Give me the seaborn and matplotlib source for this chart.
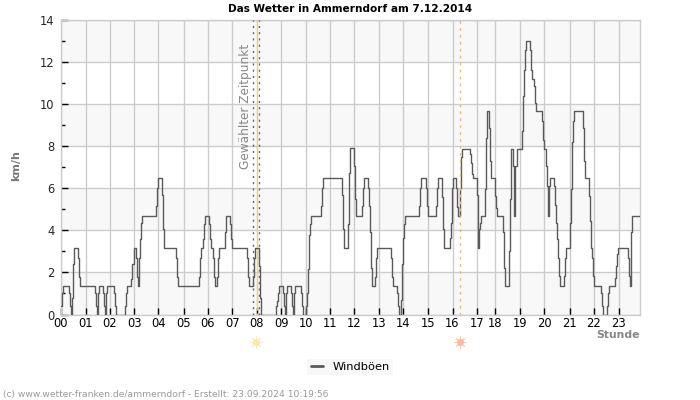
import matplotlib
matplotlib.use('Agg')
import matplotlib.pyplot as plt
import seaborn as sns
import numpy as np

# Messwerte: Position (Sample-Nr. auf der Achse) und Windböen in km/h, nur die Stufen
gust_x = [0, 1, 2, 8, 9, 10, 11, 12, 13, 17, 18, 19, 34, 35, 36, 37, 38, 42, 43, 44, 45, 46, 53, 54, 55,
          64, 65, 66, 70, 71, 73, 75, 76, 77, 78, 79, 80, 81, 95, 96, 97, 101, 102, 103, 115, 116, 117,
          138, 139, 140, 142, 143, 144, 148, 149, 150, 152, 153, 154, 156, 157, 158, 164, 165, 169, 170, 171,
          186, 187, 188, 192, 193, 194, 198, 199, 200,
          215, 216, 217, 218, 222, 223, 224, 225, 226, 230, 231, 232, 233, 234, 240, 241, 242,
          245, 246, 247, 248, 249, 250, 260, 261, 262, 281, 282, 283, 287, 288, 289, 293, 294, 295,
          301, 302, 303, 307, 308, 309, 310, 311, 314, 315, 316, 330, 331, 332, 336, 337, 338,
          340, 341, 342, 343, 344, 358, 359, 360, 365, 366, 367, 375, 376, 377, 381, 382, 383,
          389, 390, 391, 392, 395, 396, 397, 399, 400, 401, 409, 410, 411, 412, 416, 417, 418, 419, 420,
          424, 425, 426, 428, 429, 430, 434, 435, 436, 442, 443, 444, 448, 449, 450, 452, 453, 454, 456,
          461, 462, 463, 464, 465, 469, 470, 471, 473, 474, 475, 481, 482, 483, 485, 486, 487, 488, 489,
          493, 494, 495, 496, 497, 498, 499, 503, 504, 505, 509, 510, 511, 512, 513, 522, 523, 524,
          528, 529, 530, 531, 532, 533, 540, 541, 542, 546, 547, 548, 554, 555, 556, 557,
          567, 568, 569, 570, 571, 579]
gust_kmh = [0.4, 1.0, 1.36, 1.0, 0.4, 0, 0.8, 2.4, 3.17, 2.7, 1.8, 1.36, 1.0, 0.4, 0, 1.0, 1.36, 1.0, 0.4, 0, 1.0, 1.36, 1.0, 0.4, 0,
            0.4, 1.0, 1.36, 1.67, 2.4, 3.17, 2.7, 1.8, 1.36, 2.7, 3.57, 4.36, 4.7, 5.15, 6.03, 6.5, 5.7, 4.05, 3.17, 2.7, 1.8, 1.36,
            1.8, 2.7, 3.17, 3.57, 4.3, 4.7, 4.3, 3.57, 3.17, 2.7, 1.8, 1.36, 1.8, 2.7, 3.17, 3.9, 4.7, 4.3, 3.57, 3.17,
            2.7, 1.8, 1.36, 1.8, 2.7, 3.17, 2.3, 0.8, 0,
            0.4, 0.63, 1.0, 1.36, 1.0, 0.4, 0, 1.0, 1.36, 1.0, 0.4, 0, 1.0, 1.36, 1.0, 0.4, 0,
            0.4, 1.0, 2.14, 3.8, 4.3, 4.7, 5.15, 6.03, 6.5, 5.7, 4.05, 3.17, 4.3, 6.75, 7.9, 7.06, 5.5, 4.7,
            5.15, 6.03, 6.5, 6.03, 5.15, 3.9, 2.2, 1.36, 1.8, 2.7, 3.17, 2.7, 1.8, 1.36, 1.0, 0.4, 0,
            0.7, 2.4, 3.65, 4.3, 4.7, 5.15, 6.03, 6.5, 6.03, 5.15, 4.7, 5.15, 6.03, 6.5, 5.6, 4.05, 3.17,
            3.65, 4.36, 6.03, 6.5, 6.03, 5.1, 4.7, 6.0, 7.5, 7.86, 7.64, 7.2, 6.7, 6.5, 5.67, 3.17, 4.05, 4.37, 4.7,
            5.95, 8.4, 9.68, 8.87, 7.28, 6.5, 5.63, 5.08, 4.7, 3.9, 2.2, 1.36, 3.0, 5.5, 7.86, 7.07, 4.7, 7.07, 7.86,
            8.7, 10.37, 11.64, 12.56, 13, 12.56, 11.64, 11.2, 10.85, 10.05, 9.68, 9.2, 8.3, 7.86, 7.07, 6.1, 4.7, 6.1, 6.5,
            6.1, 5.2, 4.37, 3.57, 2.7, 1.83, 1.36, 1.83, 2.7, 3.17, 4.37, 5.95, 8.2, 9.18, 9.68, 8.87, 7.28, 6.5,
            5.63, 4.44, 3.17, 2.7, 1.83, 1.36, 1.0, 0.4, 0, 0.4, 1.0, 1.36, 1.75, 2.3, 2.86, 3.17,
            2.7, 1.83, 1.36, 3.9, 4.7, 4.7]

hour_ticks = [0, 24.7, 48.7, 73.3, 97.3, 122.7, 146.5, 171.3, 195.7, 220.3, 244.7, 269, 293, 318, 342, 367,
              391.5, 416.3, 434.3, 459.3, 483.3, 508.5, 532.5, 557.5]
hour_labels = [f"{h:02d}" for h in range(24)]
y_major = [0, 2, 4, 6, 8, 10, 12, 14]
y_minor = [1, 3, 5, 7, 9, 11, 13]
bands = [(0, 2), (4, 6), (8, 10), (12, 14)]

selected_x = [191.5, 197.5]
sunrise_x = 195.7
sunset_x = 399.3

sns.set_style("white")
plt.rcParams['font.family'] = ['DejaVu Sans']

fig = plt.figure(figsize=(7, 4), dpi=100)
ax = fig.add_axes([61/700, 1 - 314.5/400, 579/700, 294.5/400])

# Hintergrund
for lo, hi in bands:
    ax.axhspan(lo, hi, color="#f8f8f8", lw=0, zorder=0)
ax.set_axisbelow(True)
ax.grid(True, which='major', color="#cccccc", lw=1)

sns.lineplot(x=gust_x, y=gust_kmh, drawstyle='steps-post', estimator=None, errorbar=None,
             color="#5a5a5a", lw=1, label="Windböen", ax=ax, legend=False, zorder=3)

# Markierungen
for xs in selected_x:
    ax.axvline(xs, color="#666666", lw=1, ls=(0, (1.5, 3)), zorder=4)
ax.axvline(sunrise_x, color="#f5e04a", lw=1, ls=(0, (1.5, 2)), zorder=4)
ax.axvline(sunset_x, color="#ffb84d", lw=1, ls=(0, (2, 3)), zorder=4)
ax.text(184, 9.9, "Gewählter Zeitpunkt", rotation=90, color="#888888", fontsize=8.75,
        ha='center', va='center', zorder=5)

ax.set_xlim(0, 579)
ax.set_ylim(0, 14)
ax.set_xticks(hour_ticks)
ax.set_xticklabels(hour_labels)
ax.set_yticks(y_major)
ax.set_yticks(y_minor, minor=True)
ax.tick_params(axis='x', direction='in', length=5, width=1, color='black', labelsize=8.3, pad=2,
               bottom=True, labelcolor='black')
ax.tick_params(axis='y', which='major', direction='in', length=5, width=1, color='black', labelsize=8.3,
               pad=4.5, left=True)
ax.tick_params(axis='y', which='minor', direction='in', length=3, width=1, color='black', left=True)
for s in ax.spines.values():
    s.set_color("#cccccc")
    s.set_linewidth(1)

# Sonnenauf- und -untergang
trans = ax.get_xaxis_transform()
for xs, col in [(sunrise_x, "#fbe9a6"), (sunset_x, "#ffb9a0")]:
    ax.plot([xs - 0.5], [-0.0925], marker=(8, 2, 0), ms=8.5, mew=0.7, color=col, transform=trans,
            clip_on=False, alpha=0.8, ls='none')
    ax.plot([xs - 0.5], [-0.0925], marker='o', ms=5, mew=0, color=col, transform=trans,
            clip_on=False, ls='none')

fig.text(350/700, 1 - 9/400, "Das Wetter in Ammerndorf am 7.12.2014", fontsize=7.55, fontweight='bold',
         ha='center', va='center', color='black')
fig.text(16/700, 1 - 166/400, "km/h", fontsize=8, fontweight='bold', rotation=90, color="#777777",
         ha='center', va='center')
fig.text(640/700, 1 - 335.5/400, "Stunde", fontsize=7.8, fontweight='bold', color="#888888",
         ha='right', va='center')

handles, labels = ax.get_legend_handles_labels()
leg = fig.legend(handles, labels, loc='center', bbox_to_anchor=(350/700, 1 - 367/400), frameon=True,
                 fontsize=8.2, facecolor="#f8f8f8", edgecolor="none", fancybox=False, framealpha=1,
                 handlelength=1.1, handletextpad=0.8, borderpad=0.3, labelcolor='black')
leg.get_lines()[0].set_linewidth(2)

fig.text(3/700, 1 - 394/400, "(c) www.wetter-franken.de/ammerndorf - Erstellt: 23.09.2024 10:19:56",
         fontsize=6.6, color="#999999", ha='left', va='center')

fig.savefig("out.png", dpi=100)
